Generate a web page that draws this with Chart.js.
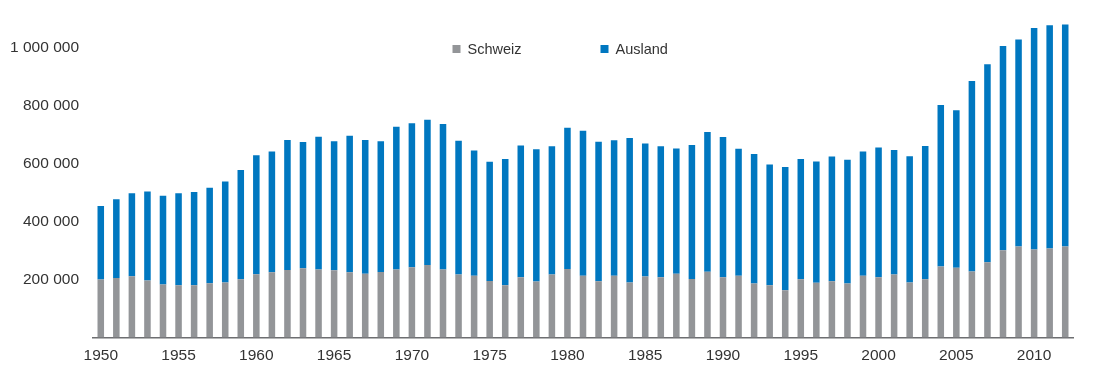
<!DOCTYPE html>
<html>
<head>
<meta charset="utf-8">
<script src="https://cdn.jsdelivr.net/npm/chart.js@4/dist/chart.umd.min.js"></script>
<style>
  html, body { margin: 0; padding: 0; background: #ffffff; }
  #wrap { width: 1119px; height: 379px; position: relative; }
</style>
</head>
<body>
<div id="wrap"><canvas id="c" width="1119" height="379"></canvas></div>
<script>
// Years shown on the category axis
const years = [
  1950, 1951, 1952, 1953, 1954, 1955, 1956, 1957, 1958, 1959,
  1960, 1961, 1962, 1963, 1964, 1965, 1966, 1967, 1968, 1969,
  1970, 1971, 1972, 1973, 1974, 1975, 1976, 1977, 1978, 1979,
  1980, 1981, 1982, 1983, 1984, 1985, 1986, 1987, 1988, 1989,
  1990, 1991, 1992, 1993, 1994, 1995, 1996, 1997, 1998, 1999,
  2000, 2001, 2002, 2003, 2004, 2005, 2006, 2007, 2008, 2009,
  2010, 2011, 2012
];

// Guests from Switzerland
const schweiz = [
  200000, 205000, 211000, 197000, 183000, 180000, 180000, 187000, 190000, 201000,
  218000, 225000, 233000, 239000, 235000, 232000, 225000, 220000, 226000, 235000,
  242000, 250000, 235000, 217000, 213000, 195000, 180000, 208000, 193000, 217000,
  236000, 213000, 194000, 213000, 190000, 210000, 208000, 220000, 202000, 227000,
  208000, 213000, 186000, 180000, 163000, 201000, 189000, 194000, 186000, 213000,
  208000, 217000, 190000, 201000, 245000, 241000, 228000, 260000, 301000, 314000,
  304000, 307000, 314000
];

// Guests from abroad
const ausland = [
  254000, 272000, 287000, 307000, 306000, 318000, 322000, 330000, 349000, 377000,
  411000, 417000, 449000, 436000, 458000, 446000, 472000, 462000, 452000, 493000,
  498000, 502000, 502000, 462000, 433000, 412000, 436000, 455000, 457000, 443000,
  488000, 501000, 482000, 468000, 499000, 460000, 452000, 433000, 463000, 483000,
  484000, 439000, 448000, 417000, 426000, 415000, 419000, 431000, 428000, 429000,
  448000, 430000, 436000, 460000, 558000, 544000, 658000, 684000, 706000, 715000,
  765000, 771000, 767000
];

// Value axis labels
const yTicks = [200000, 400000, 600000, 800000, 1000000];

const FONT = "'Liberation Sans', Arial, Helvetica, sans-serif";
const TEXT = '#333333';
const GRAY = '#939598';
const BLUE = '#0077c0';

function fmt(v) {
  return String(v).replace(/\B(?=(\d{3})+(?!\d))/g, ' ');
}

// Legend drawn over the upper plot area, centred on the canvas
const overlayLegend = {
  id: 'overlayLegend',
  afterDraw(chart) {
    const ctx = chart.ctx;
    const cx = chart.width / 2;
    const starts = [cx - 107, cx + 41];
    const y = 49;
    ctx.save();
    ctx.font = '14.5px ' + FONT;
    ctx.textBaseline = 'middle';
    ctx.textAlign = 'left';
    chart.data.datasets.forEach((ds, i) => {
      const x = starts[i];
      ctx.fillStyle = ds.backgroundColor;
      ctx.fillRect(x, y - 4, 8, 8);
      ctx.fillStyle = TEXT;
      ctx.fillText(ds.label, x + 15, y + 0.5);
    });
    ctx.restore();
  }
};

new Chart(document.getElementById('c'), {
  type: 'bar',
  data: {
    labels: years,
    datasets: [
      { label: 'Schweiz', data: schweiz, backgroundColor: GRAY, borderWidth: 0 },
      { label: 'Ausland', data: ausland, backgroundColor: BLUE, borderWidth: 0 }
    ]
  },
  options: {
    responsive: false,
    animation: false,
    devicePixelRatio: 1,
    layout: { padding: { left: 0, right: 46, top: 19, bottom: 5 } },
    datasets: { bar: { categoryPercentage: 1.0, barPercentage: 0.42 } },
    plugins: {
      legend: { display: false },
      tooltip: { enabled: false }
    },
    scales: {
      x: {
        stacked: true,
        grid: { display: false, drawTicks: false },
        border: { display: true, color: '#6d6e71', width: 1.5 },
        ticks: {
          autoSkip: false,
          maxRotation: 0,
          padding: 9,
          color: TEXT,
          font: { family: FONT, size: 15.5 },
          callback: function (val, idx) {
            const yr = years[idx];
            return yr % 5 === 0 ? String(yr) : '';
          }
        }
      },
      y: {
        stacked: true,
        min: 0,
        max: 1100000,
        grid: { display: false, drawTicks: false },
        border: { display: false },
        afterBuildTicks: function (scale) {
          scale.ticks = yTicks.map(v => ({ value: v }));
        },
        afterFit: function (scale) {
          scale.width = 93;
          scale.paddingTop = 0;
          scale.paddingBottom = 0;
        },
        ticks: {
          padding: 14,
          color: TEXT,
          font: { family: FONT, size: 15.5 },
          callback: v => fmt(v)
        }
      }
    }
  },
  plugins: [overlayLegend]
});
</script>
</body>
</html>
